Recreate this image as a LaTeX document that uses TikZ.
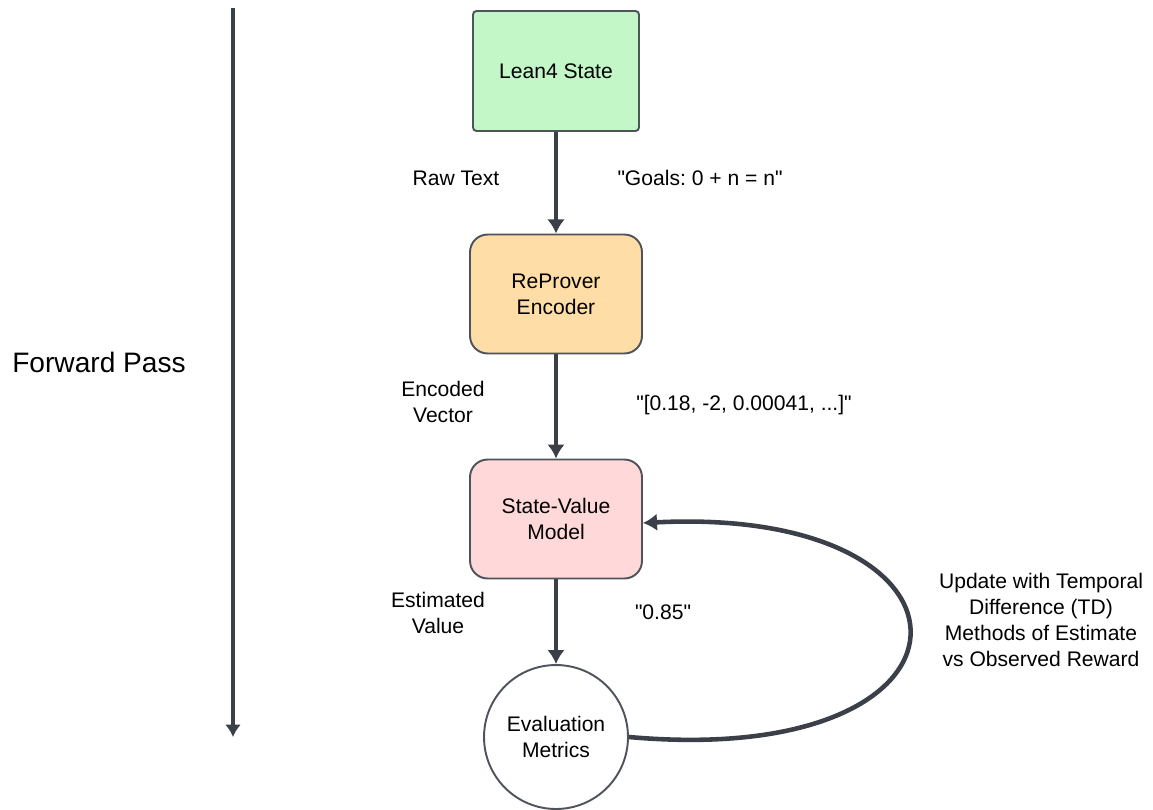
\documentclass[tikz,border=0pt]{standalone}
\usepackage{fontspec}
\setmainfont{Liberation Sans}
\usepackage{xcolor}
\usepackage{tikz}
\usetikzlibrary{arrows.meta}
\frenchspacing

\definecolor{edgegray}{HTML}{4F545C}
\definecolor{linegray}{HTML}{3B4048}
\definecolor{leangreen}{HTML}{C3F7C8}
\definecolor{encorange}{HTML}{FFDDA6}
\definecolor{valpink}{HTML}{FFD9D9}

\begin{document}
\begin{tikzpicture}[x=0.02cm, y=-0.02cm,
    box/.style={draw=edgegray, line width=1.1pt, minimum width=3.44cm, minimum height=2.38cm, align=center, font=\fontsize{12}{14.7}\selectfont},
    lbl/.style={align=center, font=\fontsize{12}{14.7}\selectfont},
    flow/.style={draw=linegray, line width=2.6pt, -{Latex[length=8pt,width=10pt]}}]
		\useasboundingbox (0,0) rectangle (1153,809);
		% forward pass axis
		\coordinate (passtop) at (233,8);
		\coordinate (passbot) at (233,737);
		\draw[draw=linegray, line width=2pt, -{Latex[length=7pt,width=9pt]}] (passtop) -- (passbot);
		\node[font=\fontsize{16}{19}\selectfont] (fwd) at (99,362) {Forward Pass};
		% pipeline
		\node[box, fill=leangreen, rounded corners=2pt, minimum width=3.32cm, minimum height=2.4cm] (lean) at (556,71) {Lean4 State};
		\node[box, fill=encorange, rounded corners=10pt] (enc) at (556,294) {ReProver\\Encoder};
		\node[box, fill=valpink, rounded corners=10pt] (val) at (556,519) {State-Value\\Model};
		\node[circle, draw=edgegray, line width=1.1pt, fill=white, minimum size=2.88cm, align=center, font=\fontsize{12}{14.7}\selectfont] (eval) at (556,737) {Evaluation\\Metrics};
		\draw[flow] (lean) -- (enc);
		\draw[flow] (enc) -- (val);
		\draw[flow] (val) -- (eval);
		\draw[flow] (eval.east) .. controls (1000,770) and (1000,505) .. ([yshift=-0.08cm]val.east);
		% labels
		\node[lbl] (rawtxt) at (456,178) {Raw Text};
		\node[lbl] (goals) at (700,178) {\textquotedbl Goals: 0 + n = n\textquotedbl};
		\node[lbl] (encvec) at (443,402) {Encoded\\Vector};
		\node[lbl] (vecval) at (744,405) {\textquotedbl[0.18, -2, 0.00041, ...]\textquotedbl};
		\node[lbl] (estval) at (438,613) {Estimated\\Value};
		\node[lbl] (numval) at (663,612) {\textquotedbl 0.85\textquotedbl};
		\node[lbl] (update) at (1041,620) {Update with Temporal\\Difference (TD)\\Methods of Estimate\\vs Observed Reward};
	\end{tikzpicture}
\end{document}
